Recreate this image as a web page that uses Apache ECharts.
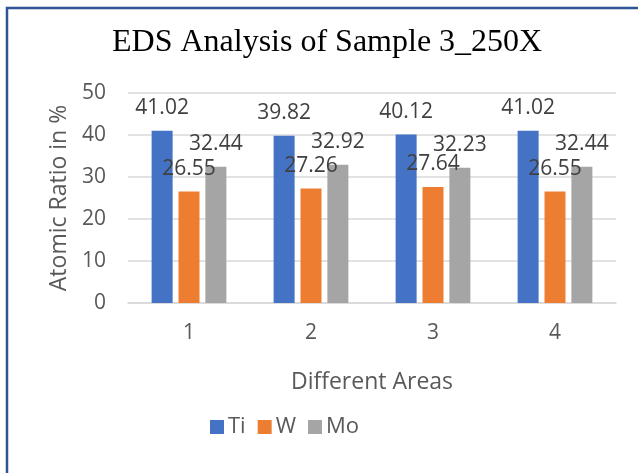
<!DOCTYPE html>
<html>
<head>
<meta charset="utf-8">
<script src="https://cdn.jsdelivr.net/npm/echarts@6/dist/echarts.min.js"></script>
<style>
  html, body { margin: 0; padding: 0; background: #fff; }
  #chart { width: 638px; height: 473px; }
</style>
</head>
<body>
<div id="chart"></div>
<script>
// Areas measured on the sample
const areas = ['1', '2', '3', '4'];
// Atomic ratio (%) per element
const ti = [41.02, 39.82, 40.12, 41.02];
const w  = [26.55, 27.26, 27.64, 26.55];
const mo = [32.44, 32.92, 32.23, 32.44];
const yTicks = { min: 0, max: 50, interval: 10 };

const sansFont = '"Open Sans", "Noto Sans", sans-serif';
const labelStyle = {
  show: true,
  position: 'top',
  distance: 12,
  color: '#404040',
  fontFamily: sansFont,
  fontSize: 21
};

function barSeries(name, data, color) {
  return {
    name: name,
    type: 'bar',
    data: data,
    barWidth: 21,
    barGap: '28%',
    itemStyle: { color: color },
    label: labelStyle
  };
}

const chart = echarts.init(document.getElementById('chart'), null, { renderer: 'canvas' });
chart.setOption({
  animation: false,
  backgroundColor: '#ffffff',
  title: {
    text: 'EDS Analysis of Sample 3_250X',
    left: 107,
    top: 22,
    textStyle: {
      fontFamily: '"Liberation Serif", "Times New Roman", serif',
      fontSize: 32,
      fontWeight: 'normal',
      color: '#000000'
    }
  },
  graphic: [{
    type: 'polyline',
    shape: { points: [[7, 473], [7, 8], [638, 8]] },
    style: { stroke: '#2F5597', lineWidth: 2.5, fill: null }
  }],
  legend: {
    left: 210,
    top: 416,
    padding: 0,
    itemWidth: 14,
    itemHeight: 14,
    itemGap: 12,
    icon: 'rect',
    textStyle: { color: '#595959', fontFamily: sansFont, fontSize: 22, padding: [0, 0, 0, -1] },
    data: ['Ti', 'W', 'Mo']
  },
  grid: { left: 128, right: 22, top: 93, bottom: 170, containLabel: false },
  xAxis: {
    type: 'category',
    data: areas,
    name: 'Different Areas',
    nameLocation: 'middle',
    nameGap: 68,
    nameTextStyle: { color: '#595959', fontFamily: sansFont, fontSize: 23 },
    axisLine: { lineStyle: { color: '#d9d9d9', width: 1.5 } },
    axisTick: { show: false },
    axisLabel: { color: '#595959', fontFamily: sansFont, fontSize: 21, margin: 20 }
  },
  yAxis: {
    type: 'value',
    min: yTicks.min,
    max: yTicks.max,
    interval: yTicks.interval,
    name: 'Atomic Ratio in %',
    nameLocation: 'middle',
    nameGap: 56,
    nameRotate: 90,
    nameTextStyle: { color: '#595959', fontFamily: sansFont, fontSize: 23 },
    axisLine: { show: false },
    axisTick: { show: false },
    axisLabel: { color: '#595959', fontFamily: sansFont, fontSize: 21, margin: 22 },
    splitLine: { lineStyle: { color: '#d9d9d9', width: 1.5 } }
  },
  series: [
    barSeries('Ti', ti, '#4472C4'),
    barSeries('W', w, '#ED7D31'),
    barSeries('Mo', mo, '#A5A5A5')
  ]
});
</script>
</body>
</html>
